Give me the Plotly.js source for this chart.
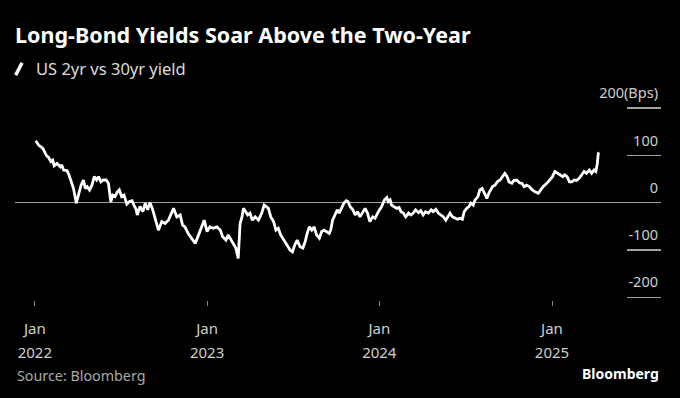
<!DOCTYPE html>
<html>
<head>
<meta charset="utf-8">
<script src="https://cdn.plot.ly/plotly-3.0.1.min.js"></script>
<style>html,body{margin:0;padding:0;background:#000;}#chart{width:680px;height:398px;}</style>
</head>
<body>
<div id="chart"></div>
<script>
const dates = ["2022-01-03","2022-01-09","2022-01-18","2022-01-23","2022-01-26","2022-01-30","2022-02-04","2022-02-08","2022-02-11","2022-02-17","2022-02-24","2022-02-27","2022-03-03","2022-03-10","2022-03-13","2022-03-18","2022-03-24","2022-03-30","2022-04-03","2022-04-09","2022-04-14","2022-04-18","2022-04-22","2022-04-27","2022-05-02","2022-05-07","2022-05-12","2022-05-16","2022-05-21","2022-05-26","2022-06-01","2022-06-06","2022-06-11","2022-06-15","2022-06-20","2022-06-25","2022-06-29","2022-07-04","2022-07-09","2022-07-15","2022-07-20","2022-07-26","2022-07-30","2022-08-04","2022-08-06","2022-08-12","2022-08-18","2022-08-23","2022-08-28","2022-09-02","2022-09-07","2022-09-13","2022-09-20","2022-09-27","2022-10-04","2022-10-11","2022-10-17","2022-10-22","2022-10-29","2022-11-05","2022-11-10","2022-11-15","2022-11-22","2022-11-30","2022-12-07","2022-12-14","2022-12-21","2022-12-26","2023-01-01","2023-01-07","2023-01-14","2023-01-22","2023-01-29","2023-02-03","2023-02-10","2023-02-15","2023-02-21","2023-02-26","2023-03-03","2023-03-08","2023-03-12","2023-03-16","2023-03-19","2023-03-24","2023-03-28","2023-04-02","2023-04-07","2023-04-13","2023-04-20","2023-04-27","2023-05-02","2023-05-06","2023-05-11","2023-05-16","2023-05-22","2023-05-27","2023-06-01","2023-06-06","2023-06-12","2023-06-19","2023-06-26","2023-07-01","2023-07-06","2023-07-11","2023-07-17","2023-07-23","2023-07-28","2023-08-01","2023-08-06","2023-08-11","2023-08-16","2023-08-21","2023-08-27","2023-09-01","2023-09-06","2023-09-12","2023-09-17","2023-09-20","2023-09-24","2023-09-29","2023-10-04","2023-10-08","2023-10-13","2023-10-18","2023-10-23","2023-10-27","2023-10-31","2023-11-06","2023-11-11","2023-11-16","2023-11-21","2023-11-27","2023-12-02","2023-12-07","2023-12-12","2023-12-18","2023-12-23","2023-12-30","2024-01-06","2024-01-12","2024-01-17","2024-01-20","2024-01-24","2024-01-27","2024-02-02","2024-02-07","2024-02-12","2024-02-16","2024-02-21","2024-02-26","2024-03-03","2024-03-08","2024-03-13","2024-03-18","2024-03-24","2024-03-29","2024-04-03","2024-04-08","2024-04-14","2024-04-20","2024-04-24","2024-04-30","2024-05-05","2024-05-11","2024-05-16","2024-05-21","2024-05-25","2024-05-30","2024-06-04","2024-06-09","2024-06-15","2024-06-20","2024-06-25","2024-06-29","2024-07-04","2024-07-09","2024-07-13","2024-07-18","2024-07-22","2024-07-28","2024-08-01","2024-08-06","2024-08-11","2024-08-16","2024-08-20","2024-08-28","2024-09-02","2024-09-07","2024-09-13","2024-09-18","2024-09-23","2024-09-28","2024-10-02","2024-10-08","2024-10-12","2024-10-18","2024-10-24","2024-10-29","2024-11-03","2024-11-08","2024-11-14","2024-11-19","2024-11-26","2024-12-03","2024-12-08","2024-12-13","2024-12-21","2024-12-28","2025-01-02","2025-01-07","2025-01-12","2025-01-18","2025-01-24","2025-01-28","2025-02-02","2025-02-07","2025-02-12","2025-02-17","2025-02-22","2025-02-28","2025-03-05","2025-03-10","2025-03-15","2025-03-21","2025-03-26","2025-03-31","2025-04-04","2025-04-07","2025-04-09","2025-04-11"];
const spreadBps = [131,122,115,104,99,96,87,90,78,83,76,80,69,68,62,48,30,-1,16,37,48,30,34,27,37,55,48,55,44,48,48,41,2,16,13,23,27,13,16,-3,2,4,-5,-15,-26,-8,-19,-1,-15,0,-12,-33,-58,-40,-44,-37,-22,-12,-30,-26,-47,-51,-65,-75,-86,-68,-47,-37,-61,-51,-54,-51,-58,-72,-79,-68,-79,-89,-96,-118,-44,-30,-12,-19,-26,-22,-37,-30,-37,-22,-5,-8,-12,-30,-40,-58,-54,-68,-79,-89,-100,-104,-89,-79,-93,-96,-82,-65,-51,-58,-51,-68,-75,-61,-58,-61,-65,-58,-37,-26,-15,-22,-12,-1,4,2,-8,-15,-26,-19,-30,-19,-12,-22,-40,-30,-33,-19,-8,6,11,2,6,-5,-8,-12,-10,-19,-22,-30,-22,-26,-22,-15,-21,-17,-26,-19,-22,-15,-19,-14,-22,-26,-30,-37,-30,-22,-30,-33,-35,-33,-35,-19,-12,-8,-1,-5,6,13,27,30,20,9,20,34,37,44,48,55,62,55,44,41,47,48,42,41,34,37,34,28,23,20,27,34,41,48,55,66,62,59,55,59,55,44,44,48,47,52,59,66,62,69,62,69,66,83,104,106];
const xTickVals = ["2022-01-01","2023-01-01","2024-01-01","2025-01-01"];
const xTickMonth = ["Jan","Jan","Jan","Jan"];
const xTickYear = ["2022","2023","2024","2025"];
const yTickVals = [-200,-100,0,100,200];
const yTickText = ["-200","-100","0","100","200(Bps)"];

const FONT = "Noto Sans, DejaVu Sans, sans-serif";
const sp = s => '<span style="font-size:15px">' + s + '</span>';

const trace = {
  x: dates, y: spreadBps, type: "scatter", mode: "lines",
  line: {color: "#ffffff", width: 2.8}, hoverinfo: "skip", showlegend: false
};

const layout = {
  width: 680, height: 398,
  paper_bgcolor: "#000", plot_bgcolor: "#000",
  margin: {l: 15, r: 19, t: 80, b: 98},
  font: {family: FONT, color: "#cfcfcf", size: 14},
  title: {
    text: "<b>Long-Bond Yields Soar Above the Two-Year</b>",
    font: {family: FONT, size: 21.5, color: "#ffffff"},
    x: 15/680, xanchor: "left", xref: "container",
    y: 1 - 35/398, yanchor: "middle", yref: "container"
  },
  xaxis: {
    type: "date", range: ["2021-11-20", "2025-08-20"],
    showgrid: false, zeroline: false, showline: false,
    tickvals: xTickVals,
    ticktext: xTickVals.map((v, i) => sp(xTickMonth[i]) + "<br>" + sp(xTickYear[i])),
    ticks: "outside", ticklen: 5, tickwidth: 1, tickcolor: "#888",
    ticklabelstandoff: 6,
    tickfont: {family: FONT, size: 18.5, color: "#cfcfcf"}
  },
  yaxis: {
    side: "right", range: [-205.7, 259.4],
    showgrid: false, showline: false,
    zeroline: true, zerolinecolor: "#a0a0a0", zerolinewidth: 1.5,
    tickvals: yTickVals, ticktext: yTickText,
    ticks: "inside", ticklen: 34, tickwidth: 1.5, tickcolor: "#a0a0a0",
    ticklabelposition: "inside top", ticklabelshift: -4,
    tickfont: {family: FONT, size: 14.5, color: "#cfcfcf"}
  },
  shapes: [
    {type: "line", xref: "paper", yref: "paper", x0: 0.001, y0: 1.022, x1: 0.011, y1: 1.078,
     line: {color: "#ffffff", width: 3.4}}
  ],
  annotations: [
    {text: "US 2yr vs 30yr yield", xref: "paper", yref: "paper", x: 0.0294, y: 1.05,
     xanchor: "left", yanchor: "middle", showarrow: false,
     font: {family: FONT, size: 16.5, color: "#dddddd"}},
    {text: "Source: Bloomberg", xref: "paper", yref: "paper", x: 0, y: -0.345,
     xanchor: "left", yanchor: "middle", showarrow: false,
     font: {family: FONT, size: 14.3, color: "#aaaaaa"}},
    {text: "<b>Bloomberg</b>", xref: "paper", yref: "paper", x: 1, y: -0.336,
     xanchor: "right", yanchor: "middle", showarrow: false,
     font: {family: FONT, size: 14, color: "#ffffff"}}
  ]
};

Plotly.newPlot("chart", [trace], layout, {displayModeBar: false, staticPlot: true});
</script>
</body>
</html>
